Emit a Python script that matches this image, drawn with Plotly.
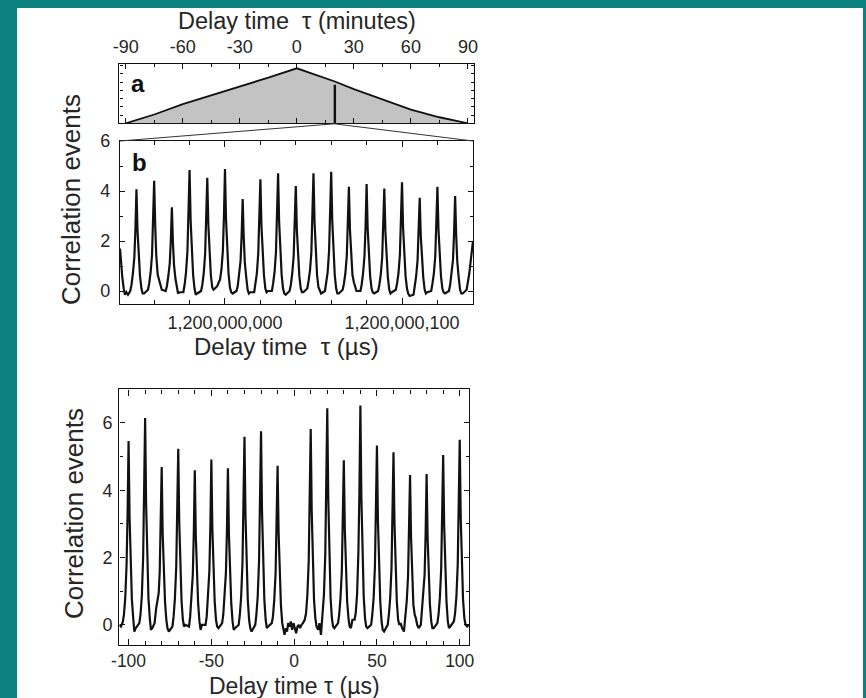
import plotly.graph_objects as go

W, H = 866, 698

# ---------------- data ----------------
# Panel a: coarse correlation envelope (delay in minutes, relative height)
a_tau = [-90, -75, -60, -45, -30, -15, 0, 10, 20, 30, 45, 60, 75, 90]
a_val = [0.0, 0.16, 0.35, 0.51, 0.665, 0.83, 1.0, 0.88, 0.76, 0.62, 0.43, 0.25, 0.11, 0.0]
a_marker_tau = 20
a_marker_top = 0.70
a_ticks = [-90, -60, -30, 0, 30, 60, 90]
a_ticktext = ["-90", "-60", "-30", "0", "30", "60", "90"]

# Panel b: zoom at tau = 20 min (x = offset from 1,200,000,000 us)
b_pts = [
    (-59.3, 1.7), (-58.8, 1.2), (-58.0, 0.55), (-57.2, 0.1), (-56.5, -0.15), (-55.7, -0.05), (-54.8, -0.15),
    (-53.5, 0.0), (-52.8, 0.25), (-52.0, 0.7), (-51.2, 1.35), (-50.6, 2.45), (-50.0, 4.07), (-49.4, 2.4), (-48.8, 1.3), (-48.0, 0.6), (-47.2, 0.1), (-46.5, -0.1), (-45.7, -0.1),
    (-43.5, 0.05), (-42.8, 0.3), (-42.0, 0.75), (-41.2, 1.45), (-40.6, 2.65), (-40.0, 4.41), (-39.4, 2.6), (-38.8, 1.4), (-38.0, 0.65), (-37.2, 0.4), (-36.5, 0.3), (-35.7, 0.05),
    (-33.5, 0.0), (-32.8, 0.2), (-32.0, 0.6), (-31.2, 1.1), (-30.6, 2.0), (-30.0, 3.35), (-29.4, 1.95), (-28.8, 1.05), (-28.0, 0.5), (-27.2, 0.1), (-26.5, -0.1), (-25.7, -0.05),
    (-23.5, -0.05), (-22.8, 0.25), (-22.0, 0.75), (-21.2, 1.6), (-20.6, 2.9), (-20.0, 4.84), (-19.4, 2.8), (-18.8, 1.55), (-18.0, 0.65), (-17.2, 0.1), (-16.5, -0.15), (-15.7, -0.1),
    (-13.5, 0.0), (-12.8, 0.25), (-12.0, 0.7), (-11.2, 1.5), (-10.6, 2.7), (-10.0, 4.53), (-9.4, 2.65), (-8.8, 1.45), (-8.0, 0.65), (-7.2, 0.15), (-6.5, 0.05), (-5.7, 0.1),
    (-4.3, 0.2), (-3.5, 0.35), (-2.8, 0.45), (-2.0, 0.85), (-1.2, 1.6), (-0.6, 2.95), (0.0, 4.88), (0.6, 2.85), (1.2, 1.55), (2.0, 0.7), (2.8, 0.15), (3.5, -0.05), (4.3, -0.1),
    (6.5, 0.0), (7.2, 0.2), (8.0, 0.6), (8.8, 1.2), (9.4, 2.2), (10.0, 3.68), (10.6, 2.15), (11.2, 1.15), (12.0, 0.55), (12.8, 0.05), (13.5, -0.1), (14.3, -0.05),
    (16.5, -0.05), (17.2, 0.25), (18.0, 0.7), (18.8, 1.5), (19.4, 2.7), (20.0, 4.47), (20.6, 2.6), (21.2, 1.45), (22.0, 0.65), (22.8, 0.1), (23.5, -0.05), (24.3, 0.0),
    (26.5, 0.0), (27.2, 0.3), (28.0, 0.75), (28.8, 1.55), (29.4, 2.85), (30.0, 4.71), (30.6, 2.75), (31.2, 1.5), (32.0, 0.65), (32.8, 0.1), (33.5, -0.1), (34.3, -0.15),
    (36.5, 0.0), (37.2, 0.25), (38.0, 0.7), (38.8, 1.4), (39.4, 2.5), (40.0, 4.2), (40.6, 2.45), (41.2, 1.35), (42.0, 0.6), (42.8, 0.1), (43.5, -0.05), (44.3, -0.05),
    (46.5, 0.1), (47.2, 0.4), (48.0, 0.8), (48.8, 1.55), (49.4, 2.85), (50.0, 4.71), (50.6, 2.75), (51.2, 1.5), (52.0, 0.65), (52.8, 0.15), (53.5, 0.0), (54.3, -0.1),
    (56.5, 0.0), (57.2, 0.3), (58.0, 0.75), (58.8, 1.6), (59.4, 2.85), (60.0, 4.77), (60.6, 2.8), (61.2, 1.55), (62.0, 0.65), (62.8, 0.1), (63.5, -0.1), (64.3, -0.1),
    (66.5, 0.05), (67.2, 0.3), (68.0, 0.7), (68.8, 1.4), (69.4, 2.5), (70.0, 4.17), (70.6, 2.45), (71.2, 1.35), (72.0, 0.65), (72.8, 0.35), (73.5, 0.2), (74.3, 0.0),
    (76.5, 0.0), (77.2, 0.25), (78.0, 0.7), (78.8, 1.4), (79.4, 2.55), (80.0, 4.28), (80.6, 2.5), (81.2, 1.35), (82.0, 0.6), (82.8, 0.1), (83.5, -0.05), (84.3, -0.1),
    (86.5, 0.0), (87.2, 0.25), (88.0, 0.65), (88.8, 1.35), (89.4, 2.45), (90.0, 4.1), (90.6, 2.4), (91.2, 1.3), (92.0, 0.55), (92.8, 0.05), (93.5, -0.1), (94.3, -0.05),
    (96.5, 0.05), (97.2, 0.3), (98.0, 0.7), (98.8, 1.45), (99.4, 2.6), (100.0, 4.35), (100.6, 2.55), (101.2, 1.4), (102.0, 0.6), (102.8, 0.1), (103.5, -0.1), (104.3, -0.2),
    (106.5, -0.15), (107.2, 0.2), (108.0, 0.6), (108.8, 1.25), (109.4, 2.25), (110.0, 3.73), (110.6, 2.2), (111.2, 1.2), (112.0, 0.55), (112.8, 0.05), (113.5, -0.1), (114.3, -0.05),
    (116.5, 0.0), (117.2, 0.3), (118.0, 0.7), (118.8, 1.4), (119.4, 2.5), (120.0, 4.17), (120.6, 2.45), (121.2, 1.35), (122.0, 0.6), (122.8, 0.1), (123.5, -0.05), (124.3, -0.1),
    (126.5, 0.0), (127.2, 0.25), (128.0, 0.65), (128.8, 1.25), (129.4, 2.3), (130.0, 3.8), (130.6, 2.25), (131.2, 1.2), (132.0, 0.55), (132.8, 0.05), (133.5, -0.1), (134.3, -0.1),
    (136.5, 0.05), (137.2, 0.3), (138.0, 0.7), (138.8, 1.2), (139.5, 1.6), (140.1, 2.0),
]
b_tickvals = [0, 100]
b_ticktext = ["1,200,000,000", "1,200,000,100"]
b_yticks = [0, 2, 4, 6]

# Panel c: around zero delay (us)
c_pts = [
    (-105.6, 0.0), (-104.6, -0.05),
    (-103.5, 0.08), (-102.8, 0.3), (-102.0, 0.8), (-101.2, 1.8), (-100.6, 3.3), (-100.0, 5.46), (-99.4, 3.2), (-98.8, 1.75), (-98.0, 0.75), (-97.2, 0.2), (-96.5, -0.2), (-95.7, -0.1),
    (-93.5, 0.05), (-92.8, 0.3), (-92.0, 0.85), (-91.2, 2.0), (-90.6, 3.7), (-90.0, 6.15), (-89.4, 3.6), (-88.8, 1.95), (-88.0, 0.8), (-87.2, 0.2), (-86.5, -0.15), (-85.7, -0.1),
    (-84.3, 0.05), (-83.3, 0.5), (-82.5, 0.75), (-81.8, 0.95), (-81.2, 1.55), (-80.6, 2.8), (-80.0, 4.69), (-79.4, 2.7), (-78.8, 1.5), (-78.0, 0.7), (-77.2, 0.15), (-76.5, -0.1), (-75.7, -0.2),
    (-73.5, -0.05), (-72.8, 0.25), (-72.0, 0.8), (-71.2, 1.75), (-70.6, 3.15), (-70.0, 5.23), (-69.4, 3.05), (-68.8, 1.7), (-68.0, 0.7), (-67.2, 0.15), (-66.5, -0.05), (-65.7, 0.0),
    (-63.5, -0.05), (-62.8, 0.25), (-62.0, 0.75), (-61.2, 1.5), (-60.6, 2.75), (-60.0, 4.59), (-59.4, 2.65), (-58.8, 1.45), (-58.0, 0.65), (-57.2, 0.1), (-56.5, -0.15), (-55.7, 0.0),
    (-53.5, 0.0), (-52.8, 0.25), (-52.0, 0.8), (-51.2, 1.6), (-50.6, 2.95), (-50.0, 4.91), (-49.4, 2.85), (-48.8, 1.55), (-48.0, 0.7), (-47.2, 0.15), (-46.5, -0.05), (-45.7, -0.1),
    (-43.5, 0.05), (-42.8, 0.3), (-42.0, 0.8), (-41.2, 1.55), (-40.6, 2.8), (-40.0, 4.65), (-39.4, 2.7), (-38.8, 1.5), (-38.0, 0.65), (-37.2, 0.1), (-36.5, -0.15), (-35.7, -0.1),
    (-33.5, 0.0), (-32.8, 0.3), (-32.0, 0.85), (-31.2, 1.85), (-30.6, 3.35), (-30.0, 5.59), (-29.4, 3.25), (-28.8, 1.8), (-28.0, 0.75), (-27.2, 0.15), (-26.5, -0.1), (-25.7, -0.2),
    (-23.5, 0.0), (-22.8, 0.3), (-22.0, 0.85), (-21.2, 1.9), (-20.6, 3.45), (-20.0, 5.75), (-19.4, 3.35), (-18.8, 1.85), (-18.0, 0.75), (-17.2, 0.15), (-16.5, -0.1), (-15.7, -0.05),
    (-13.5, 0.05), (-12.8, 0.25), (-12.0, 0.75), (-11.2, 1.55), (-10.6, 2.85), (-10.0, 4.73), (-9.4, 2.75), (-8.8, 1.5), (-8.0, 0.6), (-7.2, 0.05), (-6.5, -0.2),
    (-5.8, -0.3), (-5.0, -0.1), (-4.3, -0.2), (-3.6, 0.05), (-2.8, -0.05), (-2.0, 0.1), (-1.2, -0.15), (-0.4, 0.05), (0.4, -0.1), (1.2, -0.25), (2.0, -0.05), (2.8, 0.0), (3.6, -0.1), (4.4, 0.0),
    (5.3, 0.05), (6.4, 0.15), (7.2, 0.35), (8.0, 0.9), (8.8, 1.9), (9.4, 3.5), (10.0, 5.82), (10.6, 3.4), (11.2, 1.85), (12.0, 0.75), (12.8, 0.2), (13.5, -0.05), (14.5, -0.15), (15.3, 0.05), (16.2, -0.3),
    (17.2, 0.3), (18.0, 0.9), (18.8, 2.1), (19.4, 3.85), (20.0, 6.44), (20.6, 3.75), (21.2, 2.05), (22.0, 0.8), (22.8, 0.2), (23.5, -0.05), (24.3, -0.1),
    (26.5, 0.05), (27.2, 0.3), (28.0, 0.8), (28.8, 1.6), (29.4, 2.95), (30.0, 4.89), (30.6, 2.85), (31.2, 1.55), (32.0, 0.7), (32.8, 0.2), (33.5, -0.05), (34.3, -0.1), (35.2, 0.15),
    (36.5, 0.15), (37.2, 0.35), (38.0, 0.9), (38.8, 2.15), (39.4, 3.9), (40.0, 6.52), (40.6, 3.8), (41.2, 2.1), (42.0, 0.85), (42.8, 0.2), (43.5, -0.05), (44.3, -0.1),
    (46.5, 0.0), (47.2, 0.3), (48.0, 0.8), (48.8, 1.75), (49.4, 3.2), (50.0, 5.33), (50.6, 3.1), (51.2, 1.7), (52.0, 0.7), (52.8, 0.1), (53.5, -0.15), (54.3, -0.2),
    (56.5, 0.0), (57.2, 0.3), (58.0, 0.8), (58.8, 1.7), (59.4, 3.1), (60.0, 5.13), (60.6, 3.0), (61.2, 1.65), (62.0, 0.7), (62.8, 0.15), (63.5, 0.0), (64.3, 0.05), (65.2, -0.1),
    (66.3, -0.2), (67.2, 0.25), (68.0, 0.7), (68.8, 1.45), (69.4, 2.65), (70.0, 4.45), (70.6, 2.6), (71.2, 1.4), (72.0, 0.6), (72.8, 0.3), (73.5, 0.2), (74.3, 0.0), (75.2, -0.1),
    (76.5, 0.0), (77.2, 0.5), (78.0, 0.85), (78.8, 1.5), (79.4, 2.7), (80.0, 4.48), (80.6, 2.6), (81.2, 1.45), (82.0, 0.6), (82.8, 0.1), (83.5, -0.1), (84.3, -0.1),
    (86.5, 0.05), (87.2, 0.3), (88.0, 0.8), (88.8, 1.65), (89.4, 3.05), (90.0, 5.05), (90.6, 2.95), (91.2, 1.6), (92.0, 0.7), (92.8, 0.1), (93.5, -0.1), (94.3, -0.05),
    (96.5, 0.1), (97.2, 0.35), (98.0, 0.85), (98.8, 1.8), (99.4, 3.3), (100.0, 5.5), (100.6, 3.2), (101.2, 1.75), (102.0, 0.75), (102.8, 0.2), (103.5, 0.0), (104.5, -0.05), (105.6, 0.0),
]
c_tickvals = [-100, -50, 0, 50, 100]
c_ticktext = ["-100", "-50", "0", "50", "100"]
c_yticks = [0, 2, 4, 6]

# ---------------- layout helpers ----------------
def px_x(x):
    return x / W

def px_y(y):
    return 1 - y / H

FONT = "Liberation Sans, Arial, Helvetica, sans-serif"
INK = "#111111"
TEAL = "#0a817e"

A_BOX = (119.3, 474, 64, 123.3)
B_BOX = (120, 473, 141, 304)
C_BOX = (119.3, 469, 389.3, 645)

fig = go.Figure()

fig.add_trace(go.Scatter(x=a_tau, y=a_val, mode="lines", fill="tozeroy",
                         fillcolor="#c3c3c3", line=dict(color=INK, width=1.8),
                         xaxis="x", yaxis="y", hoverinfo="skip"))
fig.add_trace(go.Scatter(x=[a_marker_tau, a_marker_tau], y=[0, a_marker_top], mode="lines",
                         line=dict(color=INK, width=2.4), xaxis="x", yaxis="y", hoverinfo="skip"))
fig.add_trace(go.Scatter(x=[p[0] for p in b_pts], y=[p[1] for p in b_pts], mode="lines",
                         line=dict(color=INK, width=2.2), xaxis="x2", yaxis="y2", hoverinfo="skip"))
fig.add_trace(go.Scatter(x=[p[0] for p in c_pts], y=[p[1] for p in c_pts], mode="lines",
                         line=dict(color=INK, width=2.2), xaxis="x3", yaxis="y3", hoverinfo="skip"))

tickfont = dict(family=FONT, size=18, color="#262626")
axis_common = dict(showline=True, linecolor=INK, linewidth=1.4, mirror="ticks",
                   ticks="inside", tickcolor=INK, tickwidth=1.3, showgrid=False,
                   zeroline=False, tickfont=tickfont, automargin=False)

def dom(box):
    x0, x1, y0, y1 = box
    return [px_x(x0), px_x(x1)], [px_y(y1), px_y(y0)]

ax_dom, ay_dom = dom(A_BOX)
bx_dom, by_dom = dom(B_BOX)
cx_dom, cy_dom = dom(C_BOX)

fig.update_layout(
    width=W, height=H, autosize=False, margin=dict(l=0, r=0, t=0, b=0, pad=0, autoexpand=False),
    paper_bgcolor=TEAL, plot_bgcolor="rgba(0,0,0,0)", showlegend=False,
    xaxis=dict(axis_common, domain=ax_dom, anchor="y", side="top", range=[-93.4, 93.2],
               tickmode="array", tickvals=a_ticks, ticktext=a_ticktext, ticklen=5,
               ticklabelstandoff=3,
               minor=dict(ticks="inside", dtick=15, tick0=0, ticklen=3, tickcolor=INK)),
    yaxis=dict(axis_common, domain=ay_dom, anchor="x", range=[0, 1.078],
               showticklabels=False, dtick=0.15, tick0=0, ticklen=3),
    xaxis2=dict(axis_common, domain=bx_dom, anchor="y2", range=[-59.3, 140.1],
                tickmode="array", tickvals=b_tickvals, ticktext=b_ticktext, ticklen=6,
                ticklabelstandoff=2,
                minor=dict(ticks="inside", dtick=20, tick0=0, ticklen=4, tickcolor=INK)),
    yaxis2=dict(axis_common, domain=by_dom, anchor="x2", range=[-0.52, 6.0],
                tickmode="array", tickvals=b_yticks, ticklen=5, ticklabelstandoff=5,
                minor=dict(ticks="inside", dtick=1, tick0=0, ticklen=3, tickcolor=INK)),
    xaxis3=dict(axis_common, domain=cx_dom, anchor="y3", range=[-105.6, 105.6],
                tickmode="array", tickvals=c_tickvals, ticktext=c_ticktext, ticklen=6,
                ticklabelstandoff=0, tickfont=dict(family=FONT, size=17.5, color="#262626"),
                minor=dict(ticks="inside", dtick=10, tick0=0, ticklen=4, tickcolor=INK)),
    yaxis3=dict(axis_common, domain=cy_dom, anchor="x3", range=[-0.6, 7.0],
                tickmode="array", tickvals=c_yticks, ticklen=5, ticklabelstandoff=2,
                minor=dict(ticks="inside", dtick=1, tick0=0, ticklen=3, tickcolor=INK)),
)

shapes = [
    dict(type="rect", xref="paper", yref="paper", x0=px_x(17), x1=px_x(863), y0=0, y1=px_y(8),
         fillcolor="white", line=dict(width=0), layer="below"),
    dict(type="line", xref="paper", yref="paper", x0=px_x(334.3), y0=px_y(123.8),
         x1=px_x(B_BOX[0]), y1=px_y(B_BOX[2]), line=dict(color="#333333", width=1)),
    dict(type="line", xref="paper", yref="paper", x0=px_x(334.3), y0=px_y(123.8),
         x1=px_x(B_BOX[1]), y1=px_y(B_BOX[2]), line=dict(color="#333333", width=1)),
]
fig.update_layout(shapes=shapes)

ytitle_font = dict(family=FONT, size=26, color="#262626")
ann = [
    dict(text="Delay time  \u03c4 (minutes)", x=px_x(296.5), y=px_y(21),
         font=dict(family=FONT, size=23.5, color="#262626")),
    dict(text="Delay time  \u03c4 (\u00b5s)", x=px_x(286), y=px_y(346),
         font=dict(family=FONT, size=24, color="#262626")),
    dict(text="Delay time \u03c4 (\u00b5s)", x=px_x(294), y=px_y(685.5),
         font=dict(family=FONT, size=23, color="#262626")),
    dict(text="Correlation events", x=px_x(71), y=px_y(200), textangle=-90, font=ytitle_font),
    dict(text="Correlation events", x=px_x(74), y=px_y(514), textangle=-90, font=ytitle_font),
]
annotations = []
for a in ann:
    d = dict(xref="paper", yref="paper", showarrow=False, xanchor="center", yanchor="middle",
             borderpad=0)
    d.update(a)
    annotations.append(d)
for lab, x, y in [("a", 137.5, 84), ("b", 139, 163)]:
    annotations.append(dict(text="<b>%s</b>" % lab, xref="paper", yref="paper", x=px_x(x), y=px_y(y),
                            showarrow=False, xanchor="center", yanchor="middle",
                            font=dict(family=FONT, size=24, color="#111111")))
fig.update_layout(annotations=annotations)

# page styling only: remove the default body margin so the figure sits at the window origin
fig.write_html("out.html", config={"displayModeBar": False},
               post_script="document.body.style.margin='0';document.body.style.background='%s';" % TEAL)
